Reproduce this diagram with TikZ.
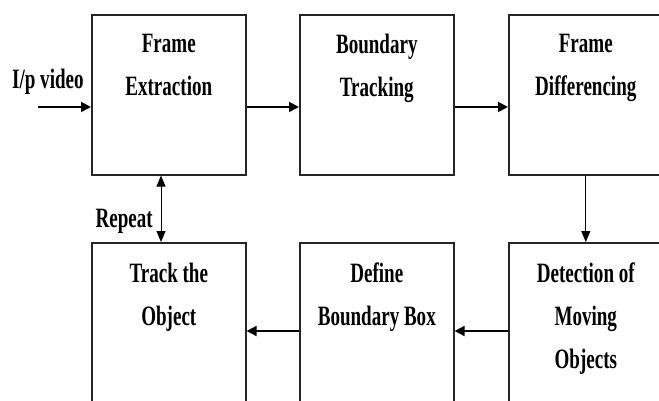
\documentclass[tikz,border=0pt]{standalone}
\usepackage{fontspec}
\newfontfamily\blkfont{Liberation Serif}[FakeStretch=0.68]
\usetikzlibrary{arrows.meta,calc,positioning}

\begin{document}
\begin{tikzpicture}[x=1pt,y=1pt,
  blk/.style={draw=black!85,line width=1.6pt,minimum width=154pt,minimum height=160pt,inner sep=0pt,anchor=north west},
  txt/.style={font=\blkfont\bfseries\fontsize{28}{43}\selectfont,align=center,inner sep=0pt,anchor=north},
  arr/.style={line width=1.8pt,-{Triangle[length=10pt,width=10pt]}},
  thin/.style={line width=1pt,-{Triangle[length=11pt,width=9pt]}}]
\useasboundingbox (0,0) rectangle (659,400);
\clip (0,0) rectangle (659,400);
\node[blk] (fe) at (91,386) {};
\node[blk] (bt) at (299,386) {};
\node[blk] (fd) at (508,386) {};
\node[blk] (tr) at (91,158) {};
\node[blk] (db) at (299,158) {};
\node[blk] (dm) at (508,158) {};
\node[txt] (fetxt) at ($(fe.north)+(0,-20)$) {Frame\\Extraction};
\node[txt] (bttxt) at ($(bt.north)+(0,-20)$) {Boundary\\Tracking};
\node[txt] (fdtxt) at ($(fd.north)+(0,-20)$) {Frame\\Differencing};
\node[txt] (trtxt) at ($(tr.north)+(0,-21)$) {Track the\\Object};
\node[txt] (dbtxt) at ($(db.north)+(0,-21)$) {Define\\Boundary Box};
\node[txt] (dmtxt) at ($(dm.north)+(0,-21)$) {Detection of\\Moving\\Objects};
\node[txt,anchor=base west] (ip) at (12,312) {I/p video};
\node[txt,anchor=base east] (rp) at (153,173) {Repeat};
\coordinate (in) at (38,293);
\coordinate (rep) at (161,0);
\coordinate (back) at (0,69);
\draw[arr] (in) -- (in -| fe.west);
\draw[arr] (in -| fe.east) -- (in -| bt.west);
\draw[arr] (in -| bt.east) -- (in -| fd.west);
\draw[thin] (fd.south) -- (dm.north);
\draw[arr] (back -| dm.west) -- (back -| db.east);
\draw[arr] (back -| db.west) -- (back -| tr.east);
\draw[thin,{Triangle[length=11pt,width=9pt]}-{Triangle[length=11pt,width=9pt]}] (rep |- fe.south) -- (rep |- tr.north);
\end{tikzpicture}
\end{document}
